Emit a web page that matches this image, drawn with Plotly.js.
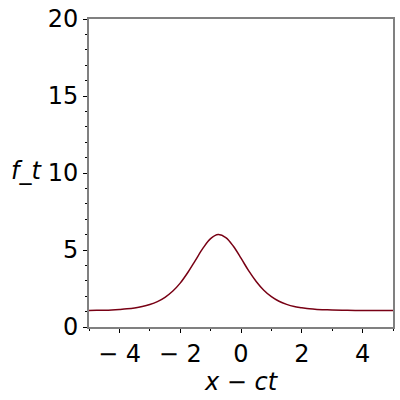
<!DOCTYPE html>
<html>
<head>
<meta charset="utf-8">
<script src="https://cdn.plot.ly/plotly-3.0.1.min.js"></script>
<style>
  html, body { margin: 0; padding: 0; background: #fff; }
  #plot { width: 400px; height: 400px; }
</style>
</head>
<body>
<div id="plot"></div>
<script>
// values
var xs = [-5, -4.75, -4.5, -4.25, -4, -3.75, -3.5, -3.25, -3, -2.75, -2.5, -2.25,
          -2, -1.75, -1.5, -1.25, -1, -0.75, -0.5, -0.25, 0, 0.25, 0.5, 0.75,
          1, 1.25, 1.5, 1.75, 2, 2.25, 2.5, 2.75, 3, 3.5, 4, 4.5, 5];
var ft = [1.07, 1.08, 1.09, 1.11, 1.14, 1.18, 1.24, 1.33, 1.46, 1.65, 1.93, 2.32,
          2.85, 3.54, 4.33, 5.12, 5.74, 6.0, 5.81, 5.24, 4.47, 3.66, 2.96, 2.39,
          1.97, 1.67, 1.47, 1.33, 1.25, 1.18, 1.14, 1.12, 1.10, 1.08, 1.07, 1.07, 1.07];

var xTicks = [-4, -2, 0, 2, 4];
var xLabels = ['\u2212 4', '\u2212 2', '0', '2', '4'];
var yTicks = [0, 5, 10, 15, 20];

var axisFont = {family: 'DejaVu Sans', size: 24, color: '#000'};

var data = [{
    x: xs,
    y: ft,
    type: 'scatter',
    mode: 'lines',
    line: {color: 'rgb(120,0,20)', width: 1.5, shape: 'spline'},
    hoverinfo: 'skip'
}];

var layout = {
    width: 400,
    height: 400,
    margin: {l: 89, r: 7, t: 19, b: 73},
    paper_bgcolor: '#fff',
    plot_bgcolor: '#fff',
    showlegend: false,
    xaxis: {
        range: [-5, 5],
        tickvals: xTicks,
        ticktext: xLabels,
        tickfont: axisFont,
        ticks: 'outside',
        ticklen: 4,
        tickwidth: 1,
        tickcolor: '#000',
        minor: {dtick: 1, ticks: 'outside', ticklen: 2, tickcolor: '#000', showgrid: false},
        showgrid: false,
        zeroline: false,
        showline: true,
        linecolor: 'rgb(128,128,128)',
        linewidth: 2,
        mirror: true,
        title: {text: '<i>x</i> \u2212 <i>ct</i>', font: axisFont, standoff: 6}
    },
    yaxis: {
        range: [0, 20],
        tickvals: yTicks,
        tickfont: axisFont,
        ticks: 'outside',
        ticklen: 4,
        tickwidth: 1,
        tickcolor: '#000',
        minor: {dtick: 1, ticks: 'outside', ticklen: 2, tickcolor: '#000', showgrid: false},
        showgrid: false,
        zeroline: false,
        showline: true,
        linecolor: 'rgb(128,128,128)',
        linewidth: 2,
        mirror: true
    },
    annotations: [{
        text: '<i>f_t</i>',
        xref: 'paper', yref: 'paper',
        x: -0.205, y: 0.505,
        xanchor: 'center', yanchor: 'middle',
        showarrow: false,
        font: axisFont
    }]
};

Plotly.newPlot('plot', data, layout, {displayModeBar: false, staticPlot: true});
</script>
</body>
</html>
